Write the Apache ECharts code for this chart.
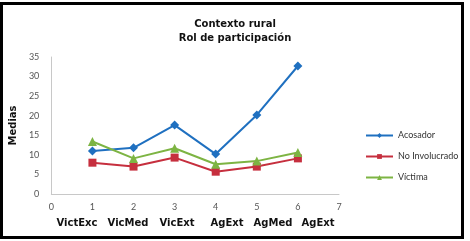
<!DOCTYPE html>
<html>
<head>
<meta charset="utf-8">
<script src="https://cdn.jsdelivr.net/npm/echarts@6/dist/echarts.min.js"></script>
<style>
  html, body { margin: 0; padding: 0; background: #fff; }
  #chart { width: 470px; height: 241px; }
</style>
</head>
<body>
<div id="chart"></div>
<script>
// valores
const xPos = [1, 2, 3, 4, 5, 6];
const acosador = [11.0, 11.8, 17.6, 10.2, 20.2, 32.7];
const noInvolucrado = [8.0, 7.0, 9.3, 5.7, 7.0, 9.1];
const victima = [13.4, 9.1, 11.7, 7.6, 8.4, 10.6];
const categorias = ['VictExc', 'VicMed', 'VicExt', 'AgExt', 'AgMed', 'AgExt'];
const catX = [77, 128, 177, 227, 273, 318];

const chart = echarts.init(document.getElementById('chart'));

function pares(vals) {
  return xPos.map((x, i) => [x, vals[i]]);
}

const fontFam = 'Lato, "DejaVu Sans", sans-serif';
const boldFam = '"DejaVu Sans", sans-serif';

const option = {
  backgroundColor: '#fff',
  animation: false,
  title: {
    text: 'Contexto rural\nRol de participación',
    left: 'center',
    top: 12,
    textStyle: { fontSize: 10, fontWeight: 'bold', color: '#111', fontFamily: boldFam, lineHeight: 14 }
  },
  grid: { left: 51, right: 131, top: 57, bottom: 47 },
  legend: {
    orient: 'vertical',
    left: 360,
    top: 126,
    itemWidth: 27,
    itemHeight: 6,
    itemGap: 12,
    textStyle: { fontSize: 9, color: '#333', fontFamily: fontFam },
    data: ['Acosador', 'No Involucrado', 'Víctima']
  },
  xAxis: {
    type: 'value',
    min: 0, max: 7, interval: 1,
    axisLine: { lineStyle: { color: '#c8c8c8' } },
    axisTick: { show: false },
    splitLine: { show: false },
    axisLabel: { fontSize: 9, color: '#555', margin: 9, fontFamily: fontFam }
  },
  yAxis: {
    type: 'value',
    min: 0, max: 35, interval: 5,
    name: 'Medias',
    nameLocation: 'middle',
    nameGap: 23,
    nameTextStyle: { fontSize: 10, fontWeight: 'bold', color: '#111', fontFamily: boldFam },
    axisLine: { show: true, lineStyle: { color: '#c8c8c8' } },
    axisTick: { show: false },
    splitLine: { show: false },
    axisLabel: { fontSize: 9, color: '#555', margin: 12, fontFamily: fontFam }
  },
  series: [
    {
      name: 'Acosador', type: 'line', data: pares(acosador),
      symbol: 'diamond', symbolSize: 9,
      lineStyle: { width: 2, color: '#1f70c0' },
      itemStyle: { color: '#1f70c0' }
    },
    {
      name: 'No Involucrado', type: 'line', data: pares(noInvolucrado),
      symbol: 'rect', symbolSize: 8,
      lineStyle: { width: 2, color: '#c62f3e' },
      itemStyle: { color: '#c62f3e' }
    },
    {
      name: 'Víctima', type: 'line', data: pares(victima),
      symbol: 'triangle', symbolSize: 9,
      lineStyle: { width: 2, color: '#7db443' },
      itemStyle: { color: '#7db443' }
    }
  ],
  graphic: [
    {
      type: 'rect',
      shape: { x: 1.5, y: 3.5, width: 461, height: 234 },
      style: { fill: 'none', stroke: '#000', lineWidth: 3 },
      silent: true
    }
  ].concat(categorias.map((c, i) => ({
    type: 'text',
    x: catX[i], y: 223,
    style: {
      text: c, align: 'center', verticalAlign: 'middle',
      fontSize: 10, fontWeight: 'bold', fill: '#111', fontFamily: boldFam
    }
  })))
};

chart.setOption(option);
</script>
</body>
</html>
